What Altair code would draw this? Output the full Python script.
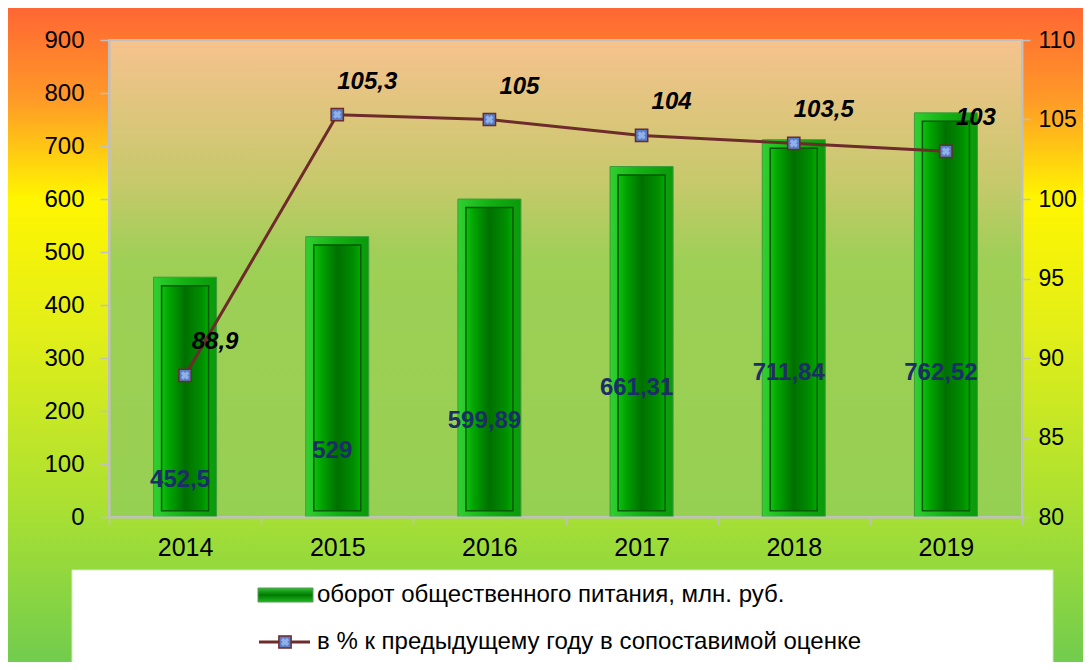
import altair as alt
import pandas as pd

years = ["2014", "2015", "2016", "2017", "2018", "2019"]
turnover = [452.5, 529, 599.89, 661.31, 711.84, 762.52]
turnover_txt = ["452,5", "529", "599,89", "661,31", "711,84", "762,52"]
pct = [88.9, 105.3, 105, 104, 103.5, 103]
pct_txt = ["88,9", "105,3", "105", "104", "103,5", "103"]
bar_label_level = [70, 125, 181, 243, 272, 272]

legend_bar = "оборот общественного питания,  млн. руб."
legend_line = "в % к предыдущему  году в сопоставимой  оценке"

W, H = 913, 477
PL, PT, PR, PB = 101, 32, 61, 145
FONT = "Liberation Sans"

df = pd.DataFrame({
    "year": years, "turnover": turnover, "turnover_txt": turnover_txt,
    "pct": pct, "pct_txt": pct_txt, "lab": bar_label_level,
})
one = pd.DataFrame({"k": [0]})

def grad_v(stops):
    return {"gradient": "linear", "x1": 0, "y1": 0, "x2": 0, "y2": 1,
            "stops": [{"offset": o, "color": c} for o, c in stops]}

def grad_h(stops):
    return {"gradient": "linear", "x1": 0, "y1": 0, "x2": 1, "y2": 0,
            "stops": [{"offset": o, "color": c} for o, c in stops]}

xenc = alt.X("year:N", sort=years, title=None,
             scale=alt.Scale(paddingInner=0, paddingOuter=0),
             axis=alt.Axis(labelAngle=0, labelFont=FONT, labelFontSize=25, labelColor="#000",
                           domainColor="#c0c0c0", domainWidth=2, tickColor="#c0c0c0",
                           tickWidth=1.5, tickSize=8, tickBand="extent", labelPadding=10, zindex=1))

outer_bg = alt.Chart(one).mark_rect(fill=grad_v([
    (0, "#ff6633"), (0.14, "#ff9a28"), (0.29, "#fff500"), (0.49, "#e3ef18"),
    (0.78, "#a6df34"), (1, "#72cc4e")])).encode(
    x=alt.value(-PL), x2=alt.value(W + PR), y=alt.value(-PT), y2=alt.value(H + PB))

plot_bg = alt.Chart(one).mark_rect(stroke="#c0c0c0", strokeWidth=2, fill=grad_v([
    (0, "#f6c28e"), (0.3, "#c6c96b"), (0.46, "#9ecf56"), (1, "#96d052")])).encode(
    x=alt.value(0), x2=alt.value(W), y=alt.value(0), y2=alt.value(H))

yleft = alt.Y("turnover:Q", title=None,
              scale=alt.Scale(domain=[0, 900], nice=False),
              axis=alt.Axis(values=list(range(0, 901, 100)), labelFont=FONT, labelFontSize=24,
                            labelColor="#000", domainColor="#c0c0c0", domainWidth=2,
                            tickColor="#c0c0c0", tickWidth=1.5, tickSize=9, grid=False,
                            labelPadding=16, zindex=1))

bar_outer = alt.Chart(df).mark_bar(size=63, stroke="#3c9c3c", strokeWidth=1, fill=grad_h([
    (0, "#30d030"), (0.5, "#12b012"), (1, "#0a9a0a")])).encode(x=xenc, y=yleft)

bar_inner = alt.Chart(df).transform_calculate(
    top="datum.turnover - 16", bot="12").mark_bar(
    size=47, stroke="#005a00", strokeWidth=1.5, fill=grad_h([
        (0, "#10c010"), (0.18, "#00a200"), (0.5, "#007000"), (0.85, "#008e00"), (1, "#00aa00")])
).encode(x=alt.X("year:N", sort=years), y=alt.Y("top:Q"), y2=alt.Y2("bot:Q"))

bar_text = alt.Chart(df).mark_text(font=FONT, fontSize=24, fontWeight="bold", color="#1c2d6a",
                                   dx=-5, baseline="middle").encode(
    x=alt.X("year:N", sort=years), y=alt.Y("lab:Q"), text="turnover_txt:N")

bars = alt.layer(bar_outer, bar_inner, bar_text)

yright = alt.Y("pct:Q", title=None,
               scale=alt.Scale(domain=[80, 110], nice=False),
               axis=alt.Axis(orient="right", values=list(range(80, 111, 5)), labelFont=FONT,
                             labelFontSize=23, labelColor="#000", domainColor="#c0c0c0",
                             domainWidth=2, tickColor="#c0c0c0", tickWidth=1.5, tickSize=8,
                             grid=False, labelPadding=8, zindex=1))

line = alt.Chart(df).mark_line(color="#6e2b2b", strokeWidth=3).encode(
    x=alt.X("year:N", sort=years), y=yright)
pts = alt.Chart(df).mark_square(size=150, color="#5a7fc6", stroke="#6e2b2b",
                                strokeWidth=1.5, opacity=1).encode(
    x=alt.X("year:N", sort=years), y="pct:Q")
pts_x = alt.Chart(df).mark_point(shape="cross", angle=45, size=70, filled=True,
                                 color="#8fb0ea", opacity=1).encode(
    x=alt.X("year:N", sort=years), y="pct:Q")
pct_text = alt.Chart(df).mark_text(font=FONT, fontSize=24, fontWeight="bold", fontStyle="italic",
                                   color="#000", dx=30, dy=-33).encode(
    x=alt.X("year:N", sort=years), y="pct:Q", text="pct_txt:N")

lines = alt.layer(line, pts, pts_x, pct_text)

# legend box
leg_box = alt.Chart(one).mark_rect(fill="white", stroke="#d8e8c8", strokeWidth=1).encode(
    x=alt.value(-37), x2=alt.value(944), y=alt.value(530), y2=alt.value(625))
leg_bar = alt.Chart(one).mark_rect(stroke="#5a9a5a", strokeWidth=1, fill=grad_v([
    (0, "#30c030"), (0.5, "#007a00"), (1, "#20b820")])).encode(
    x=alt.value(149), x2=alt.value(204), y=alt.value(548), y2=alt.value(562))
leg_line = alt.Chart(one).mark_rule(color="#6e2b2b", strokeWidth=3).encode(
    x=alt.value(150), x2=alt.value(201), y=alt.value(602))
leg_sq = alt.Chart(one).mark_square(size=150, color="#5a7fc6", stroke="#6e2b2b",
                                    strokeWidth=1.5, opacity=1).encode(
    x=alt.value(176), y=alt.value(602))
leg_x = alt.Chart(one).mark_point(shape="cross", angle=45, size=70, filled=True,
                                  color="#8fb0ea", opacity=1).encode(
    x=alt.value(176), y=alt.value(602))
leg_t1 = alt.Chart(one).mark_text(font=FONT, fontSize=24, color="#000", align="left",
                                  baseline="middle").encode(
    x=alt.value(208), y=alt.value(555), text=alt.value(legend_bar))
leg_t2 = alt.Chart(one).mark_text(font=FONT, fontSize=24, color="#000", align="left",
                                  baseline="middle").encode(
    x=alt.value(208), y=alt.value(602), text=alt.value(legend_line))

chart = alt.layer(
    outer_bg, plot_bg, bars, lines, leg_box, leg_bar, leg_line, leg_sq, leg_x, leg_t1, leg_t2
).resolve_scale(y="independent").properties(
    width=W, height=H, autosize="none",
    padding={"left": PL, "top": PT, "right": PR, "bottom": PB},
).configure_view(stroke=None)

chart.save("out.html", embed_options={"renderer": "svg", "actions": False})
